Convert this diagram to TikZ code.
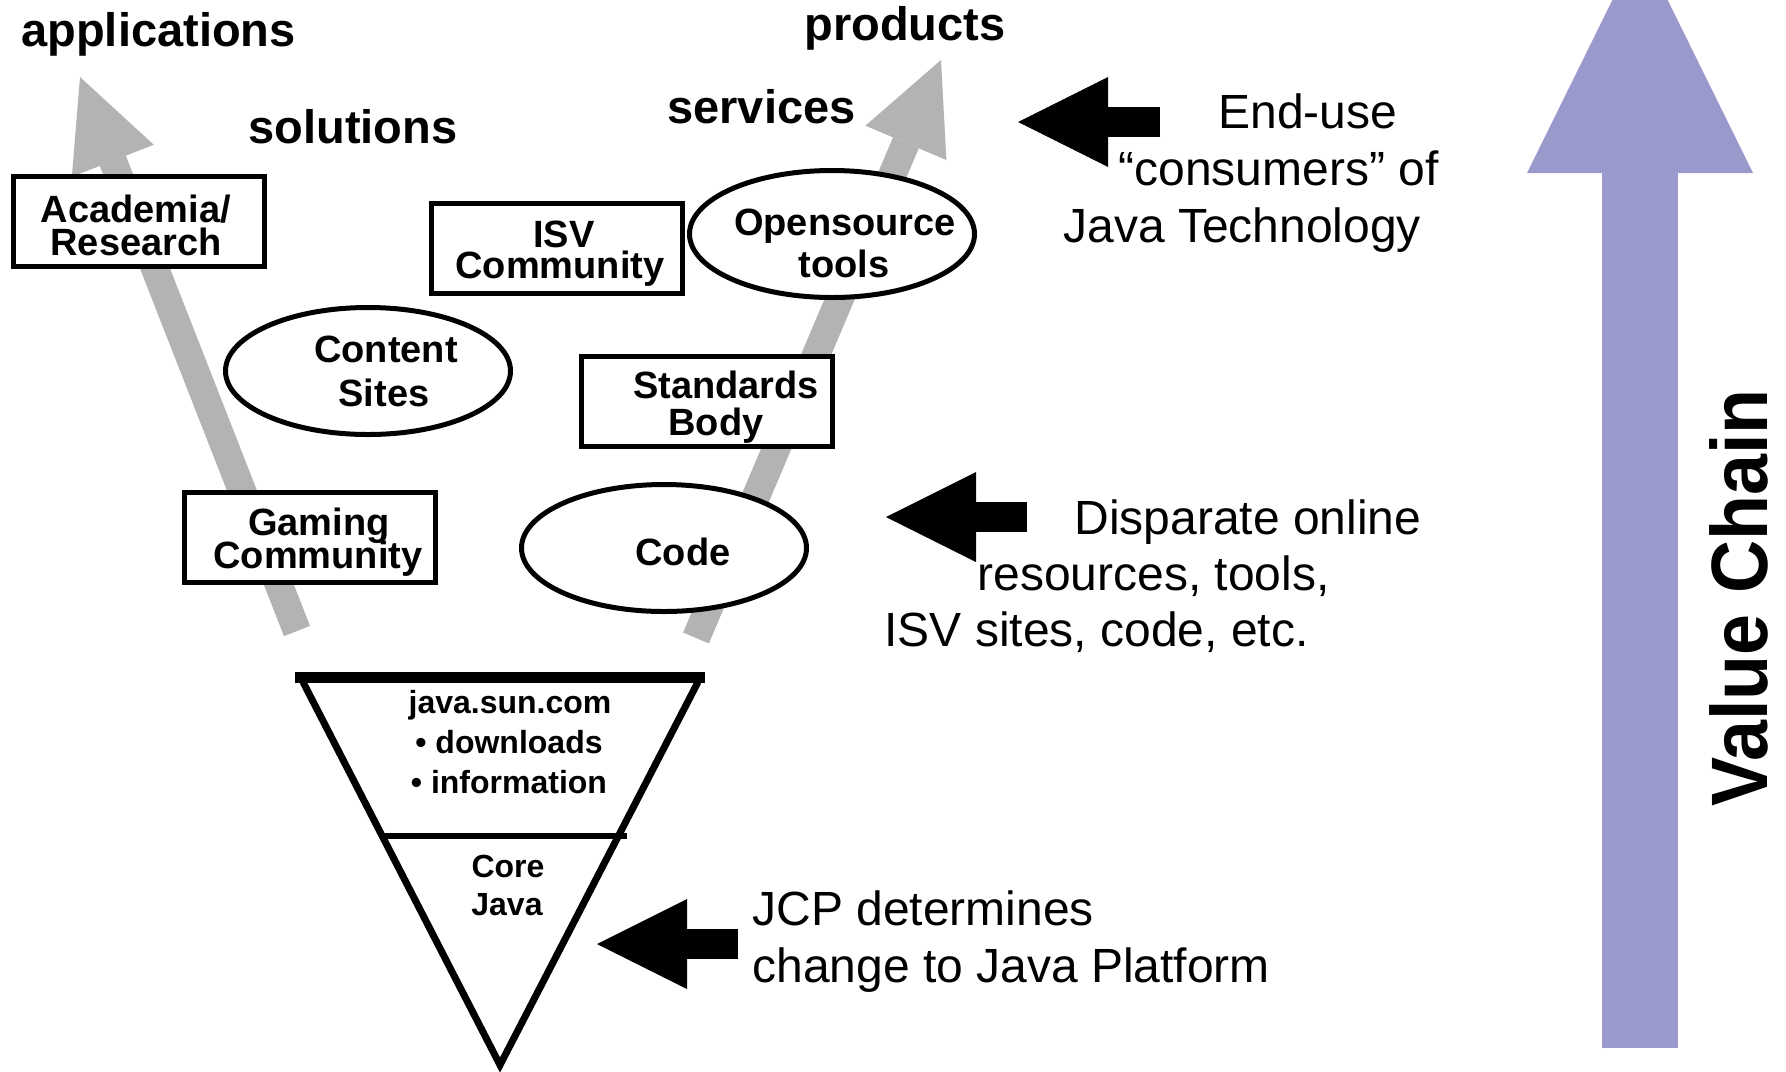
\documentclass[tikz,border=0pt]{standalone}
\usepackage{fontspec}
\usepackage{graphicx}
\setmainfont{Liberation Sans}
\usetikzlibrary{arrows.meta,shapes.geometric}
\definecolor{arrowgray}{HTML}{B3B3B3}
\definecolor{chainblue}{HTML}{9999CC}
\begin{document}
\begin{tikzpicture}[x=0.5pt,y=-0.5pt,
  headtxt/.style={font=\fontsize{23.5pt}{28pt}\selectfont\bfseries, inner sep=0pt, anchor=base west},
  boxtxt/.style={font=\fontsize{19pt}{20pt}\selectfont\bfseries, inner sep=0pt, anchor=base},
  tritxt/.style={font=\fontsize{16pt}{18pt}\selectfont\bfseries, inner sep=0pt, anchor=base},
  bodytxt/.style={font=\fontsize{24pt}{28pt}\selectfont, inner sep=0pt, anchor=base west},
  infobox/.style={draw, line width=2.5pt, fill=white, minimum width=125.5pt, minimum height=45pt, inner sep=0pt},
  infoell/.style={ellipse, draw, line width=2.5pt, fill=white, minimum width=142.5pt, minimum height=63.5pt, inner sep=0pt},
  grayarrow/.style={draw=arrowgray, line width=14pt, -{Triangle[length=45pt,width=44pt,line width=0pt]}},
  blackarrow/.style={draw=black, line width=15pt, -{Triangle[length=45pt,width=45pt,line width=0pt]}},
  chainarrow/.style={draw=chainblue, line width=38pt, -{Triangle[length=114.5pt,width=113pt,line width=0pt]}},
  chaintxt/.style={font=\fontsize{40pt}{44pt}\selectfont\bfseries, inner sep=0pt, anchor=base, rotate=90},
]
\useasboundingbox (0,0) rectangle (1786,1071);

% Value chain arrow (clipped at top edge)
\begin{scope}
  \clip (0,0) rectangle (1786,1071);
  \coordinate (vcS) at (1640,1048);
  \coordinate (vcT) at (1640,-56);
  \draw[chainarrow] (vcS) -- (vcT);
\end{scope}
\node[chaintxt] (vctext) at (1767,598) {\scalebox{0.92}[1]{Value Chain}};

% gray growth arrows
\coordinate (gLs) at (297,631);
\coordinate (gLt) at (80,77);
\coordinate (gRs) at (696,638);
\coordinate (gRt) at (941,60);
\draw[grayarrow] (gLs) -- (gLt);
\draw[grayarrow] (gRs) -- (gRt);

% headings
\node[headtxt] (happ) at (21,46) {applications};
\node[headtxt] (hsol) at (248,143) {solutions};
\node[headtxt] (hser) at (667,123) {services};
\node[headtxt] (hpro) at (804,40) {products};

% boxes and ellipses
\node[infobox] (acad) at (139,221.5) {};
\node[infobox] (isv) at (556.5,248) {};
\node[infobox] (std) at (707,401.5) {};
\node[infobox] (game) at (309.5,537.5) {};
\node[infoell] (cont) at (368,371) {};
\node[infoell] (osrc) at (832,234) {};
\node[infoell] (code) at (664,548) {};

\node[boxtxt] (acad1) at (136,222) {Academia/};
\node[boxtxt] (acad2) at (136,255) {Research};
\node[boxtxt] (isv1) at (564,247) {ISV};
\node[boxtxt] (isv2) at (560,278) {Community};
\node[boxtxt] (std1) at (726,398) {Standards};
\node[boxtxt] (std2) at (716,435) {Body};
\node[boxtxt] (game1) at (319,535) {Gaming};
\node[boxtxt] (game2) at (318,568) {Community};
\node[boxtxt] (cont1) at (386,362) {Content};
\node[boxtxt] (cont2) at (384,406) {Sites};
\node[boxtxt] (osrc1) at (845,235) {Opensource};
\node[boxtxt] (osrc2) at (844,277) {tools};
\node[boxtxt] (code1) at (683,565) {Code};

% inverted triangle
\coordinate (triL) at (303,682);
\coordinate (triR) at (698,682);
\coordinate (triB) at (500,1065);
\draw[line width=3.5pt, line join=miter] (triL) -- (triB) -- (triR);
\coordinate (barL) at (295,677);
\coordinate (barR) at (705,677);
\draw[line width=5.5pt] (barL) -- (barR);
\coordinate (midL) at (385,836);
\coordinate (midR) at (627,836);
\draw[line width=3pt] (midL) -- (midR);
\node[tritxt] (tri1) at (510,713) {java.sun.com};
\node[tritxt] (tri2) at (509,753) {• downloads};
\node[tritxt] (tri3) at (509,793) {• information};
\node[tritxt] (tri4) at (508,877) {Core};
\node[tritxt] (tri5) at (507,915) {Java};

% black pointer arrows
\coordinate (b1s) at (1160,122);
\coordinate (b1t) at (1018,122);
\coordinate (b2s) at (1027,517);
\coordinate (b2t) at (886,517);
\coordinate (b3s) at (738,944);
\coordinate (b3t) at (597,944);
\draw[blackarrow] (b1s) -- (b1t);
\draw[blackarrow] (b2s) -- (b2t);
\draw[blackarrow] (b3s) -- (b3t);

% explanatory text
\node[bodytxt] (t11) at (1218,128) {End-use};
\node[bodytxt] (t12) at (1118,185) {“consumers” of};
\node[bodytxt] (t13) at (1063,242) {Java Technology};
\node[bodytxt] (t21) at (1074,534) {Disparate online};
\node[bodytxt] (t22) at (977,590) {resources, tools,};
\node[bodytxt] (t23) at (884,646) {ISV sites, code, etc.};
\node[bodytxt] (t31) at (752,925) {JCP determines};
\node[bodytxt] (t32) at (752,982) {change to Java Platform};
\end{tikzpicture}
\end{document}
